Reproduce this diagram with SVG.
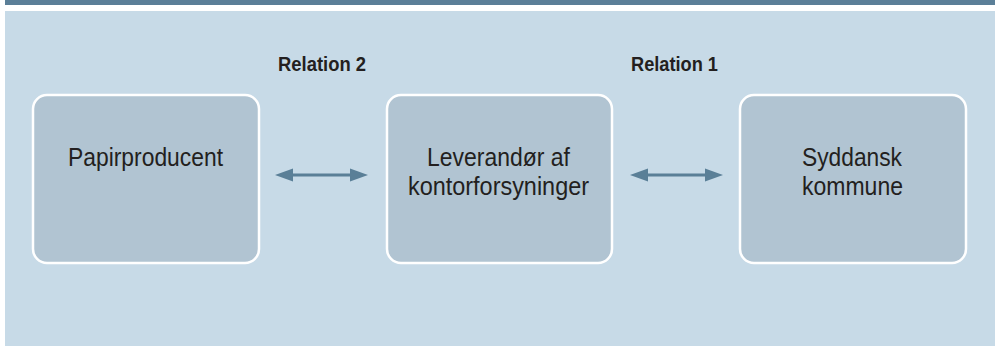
<svg xmlns="http://www.w3.org/2000/svg" width="996" height="346" viewBox="0 0 996 346">
<style>
.box{fill:#b1c4d2;stroke:#ffffff;stroke-width:2.5}
.t{font-family:"Liberation Sans",Arial,sans-serif;font-size:26px;fill:#231f20;text-anchor:middle}
.lbl{font-family:"Liberation Sans",Arial,sans-serif;font-size:21px;font-weight:bold;fill:#231f20}
.conn{stroke:#5a7f97;stroke-width:3;fill:none}
.head{fill:#5a7f97}
</style>
<rect x="5" y="0" width="990" height="5" fill="#5b7f98"/>
<rect x="5" y="11" width="990" height="335" fill="#c7dae7"/>
<g id="label-relation2"><text class="lbl" x="278" y="70.5" textLength="88" lengthAdjust="spacingAndGlyphs">Relation 2</text></g>
<g id="label-relation1"><text class="lbl" x="631" y="70.5" textLength="87" lengthAdjust="spacingAndGlyphs">Relation 1</text></g>
<g id="node-papirproducent">
<rect class="box" x="33" y="95" width="226" height="168" rx="14"/>
<text class="t" x="145.5" y="166" textLength="155" lengthAdjust="spacingAndGlyphs">Papirproducent</text>
</g>
<g id="node-leverandor">
<rect class="box" x="387" y="95" width="225" height="168" rx="14"/>
<text class="t" x="498.5" y="166" textLength="143" lengthAdjust="spacingAndGlyphs">Leverandør af</text>
<text class="t" x="498.5" y="195" textLength="181" lengthAdjust="spacingAndGlyphs">kontorforsyninger</text>
</g>
<g id="node-syddansk">
<rect class="box" x="740" y="95" width="226" height="168" rx="14"/>
<text class="t" x="852" y="166" textLength="100" lengthAdjust="spacingAndGlyphs">Syddansk</text>
<text class="t" x="852.5" y="195" textLength="101" lengthAdjust="spacingAndGlyphs">kommune</text>
</g>
<g id="connectors">
<line class="conn" x1="290" y1="175" x2="353" y2="175"/>
<polygon class="head" points="275,175 293,168.5 293,181.5"/>
<polygon class="head" points="368,175 350,168.5 350,181.5"/>
<line class="conn" x1="645" y1="175" x2="708" y2="175"/>
<polygon class="head" points="630,175 648,168.5 648,181.5"/>
<polygon class="head" points="723,175 705,168.5 705,181.5"/>
</g>
</svg>
